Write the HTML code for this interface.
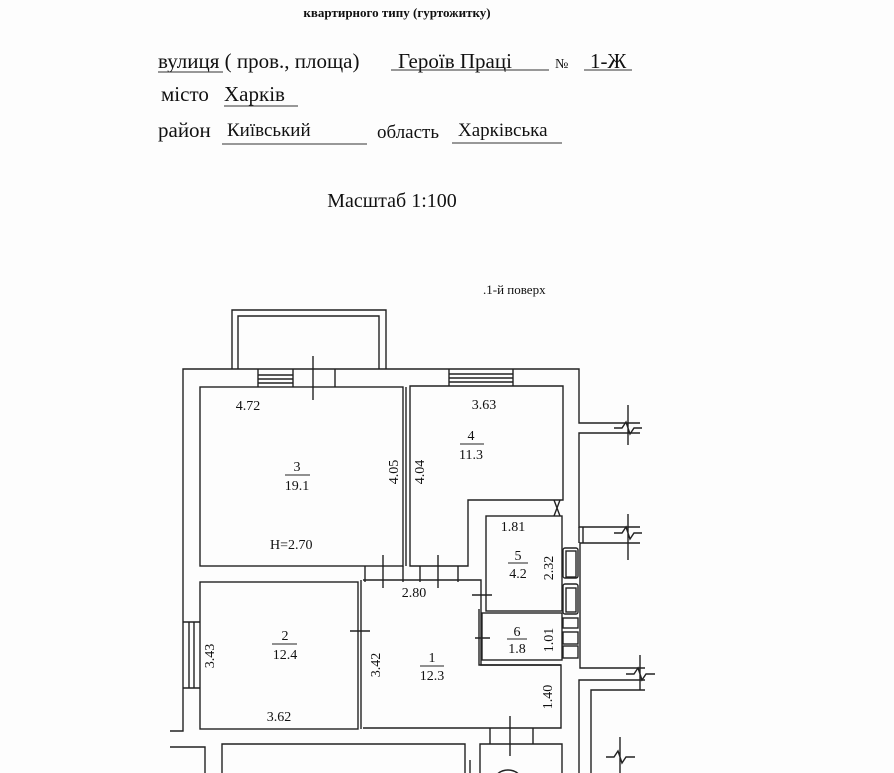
<!DOCTYPE html>
<html><head><meta charset="utf-8"><style>
html,body{margin:0;padding:0;background:#fff;}
svg{display:block}
text{font-family:"Liberation Serif","DejaVu Serif",serif;fill:#111}
</style></head><body>
<svg width="894" height="773" viewBox="0 0 894 773" xmlns="http://www.w3.org/2000/svg">
<rect width="894" height="773" fill="#fdfdfd"/>
<!-- header -->
<text x="397" y="17" font-size="13" font-weight="bold" text-anchor="middle" fill="#333">квартирного типу (гуртожитку)</text>
<text x="158" y="68" font-size="21">вулиця ( пров., площа)</text>
<text x="398" y="68" font-size="21">Героїв Праці</text>
<text x="555" y="68" font-size="14">№</text>
<text x="590" y="68" font-size="21">1-Ж</text>
<line x1="391" y1="70" x2="549" y2="70" stroke="#333"/>
<line x1="584" y1="70" x2="632" y2="70" stroke="#333"/>
<line x1="158" y1="72" x2="223" y2="72" stroke="#333"/>
<text x="161" y="101" font-size="21">місто</text>
<text x="224" y="101" font-size="21">Харків</text>
<line x1="224" y1="106" x2="298" y2="106" stroke="#333"/>
<text x="158" y="137" font-size="21">район</text>
<text x="227" y="136" font-size="19">Київський</text>
<line x1="222" y1="144" x2="367" y2="144" stroke="#333"/>
<text x="377" y="138" font-size="19">область</text>
<text x="458" y="136" font-size="19">Харківська</text>
<line x1="452" y1="143" x2="562" y2="143" stroke="#333"/>
<text x="392" y="207" font-size="20" text-anchor="middle">Масштаб 1:100</text>
<text x="483" y="294" font-size="13">.1-й поверх</text>

<g stroke="#222" stroke-width="1.4" fill="none">
<path d="M232,369 V310 H386 V369"/>
<path d="M238,369 V316 H379 V369"/>
<path d="M170,731 H183 V369 H579 V423 H640"/>
<path d="M640,433 H579 V527 H640"/>
<path d="M640,543 H580 V668 H645"/>
<path d="M645,680 H579 V773"/>
<path d="M591,773 V762 M591,762 V690 H645"/>
<path d="M579,527 V543 M583,527 V543"/>
<path d="M628,405 V445 M614,428 H622 L626,422 L630,434 L634,428 H642"/>
<path d="M628,514 V560 M614,533 H622 L626,527 L630,539 L634,533 H642"/>
<path d="M640,655 V690 M626,674 H634 L638,668 L642,680 L646,674 H655"/>
<path d="M620,737 V773 M606,757 H614 L618,751 L622,763 L626,757 H635"/>
<path d="M258,369 V387 M293,369 V387 M258,375 H293 M258,379 H293 M258,383 H293 M335,369 V387"/>
<path d="M449,369 V386 M513,369 V386 M449,374 H513 M449,378 H513 M449,382 H513"/>
<line x1="313" y1="356" x2="313" y2="400"/>
<rect x="200" y="387" width="203" height="179"/>
<line x1="406" y1="387" x2="406" y2="566"/>
<path d="M410,386 H563 V500 H468 V566 H410 Z"/>
<path d="M554,500 L560,516 M560,500 L554,516"/>
<path d="M365,566 V582 M403,566 V582 M420,566 V582 M458,566 V582 M383,555 V588 M438,555 V588"/>
<rect x="486" y="516" width="76" height="95"/>
<path d="M472,595 H492"/>
<rect x="482" y="613" width="80" height="47"/>
<path d="M479,609 V665 H561"/>
<rect x="563" y="548" width="15" height="30" rx="2"/>
<rect x="566" y="551" width="10" height="26"/>
<rect x="563" y="584" width="15" height="30" rx="2"/>
<rect x="566" y="588" width="10" height="24"/>
<rect x="563" y="618" width="15" height="10"/>
<rect x="563" y="632" width="15" height="12"/>
<rect x="563" y="646" width="15" height="12"/>
<rect x="200" y="582" width="158" height="147"/>
<line x1="361" y1="580" x2="361" y2="729"/>
<path d="M350,631 H370 M475,638 H490"/>
<path d="M363,580 H481 V665 H561 V728 H363"/>
<path d="M183,622 H200 M183,688 H200 M189,622 V688 M194,622 V688"/>
<path d="M170,747 H205 V773"/>
<path d="M222,773 V744 H465 V773"/>
<path d="M480,773 V744 H562 V773"/>
<path d="M490,728 V744 M533,728 V744 M510,716 V756"/>
<circle cx="508" cy="786" r="16"/>
<path d="M470,773 V760"/>
</g>
<g font-size="14">
<text x="248" y="410" text-anchor="middle">4.72</text>
<text x="484" y="409" text-anchor="middle">3.63</text>
<text x="297" y="471" text-anchor="middle">3</text>
<line x1="285" y1="475" x2="310" y2="475" stroke="#222"/>
<text x="297" y="490" text-anchor="middle">19.1</text>
<text x="471" y="440" text-anchor="middle">4</text>
<line x1="460" y1="444" x2="484" y2="444" stroke="#222"/>
<text x="471" y="459" text-anchor="middle">11.3</text>
<text transform="translate(398,472) rotate(-90)" text-anchor="middle">4.05</text>
<text transform="translate(424,472) rotate(-90)" text-anchor="middle">4.04</text>
<text x="270" y="549">H=2.70</text>
<text x="513" y="531" text-anchor="middle">1.81</text>
<text x="518" y="560" text-anchor="middle">5</text>
<line x1="508" y1="563" x2="528" y2="563" stroke="#222"/>
<text x="518" y="578" text-anchor="middle">4.2</text>
<text transform="translate(553,568) rotate(-90)" text-anchor="middle">2.32</text>
<text x="414" y="597" text-anchor="middle">2.80</text>
<text x="517" y="636" text-anchor="middle">6</text>
<line x1="507" y1="639" x2="527" y2="639" stroke="#222"/>
<text x="517" y="653" text-anchor="middle">1.8</text>
<text transform="translate(553,640) rotate(-90)" text-anchor="middle">1.01</text>
<text x="285" y="640" text-anchor="middle">2</text>
<line x1="272" y1="644" x2="297" y2="644" stroke="#222"/>
<text x="285" y="659" text-anchor="middle">12.4</text>
<text transform="translate(214,656) rotate(-90)" text-anchor="middle">3.43</text>
<text transform="translate(380,665) rotate(-90)" text-anchor="middle">3.42</text>
<text x="432" y="662" text-anchor="middle">1</text>
<line x1="420" y1="666" x2="444" y2="666" stroke="#222"/>
<text x="432" y="680" text-anchor="middle">12.3</text>
<text transform="translate(552,697) rotate(-90)" text-anchor="middle">1.40</text>
<text x="279" y="721" text-anchor="middle">3.62</text>
</g>
</svg>
</body></html>
